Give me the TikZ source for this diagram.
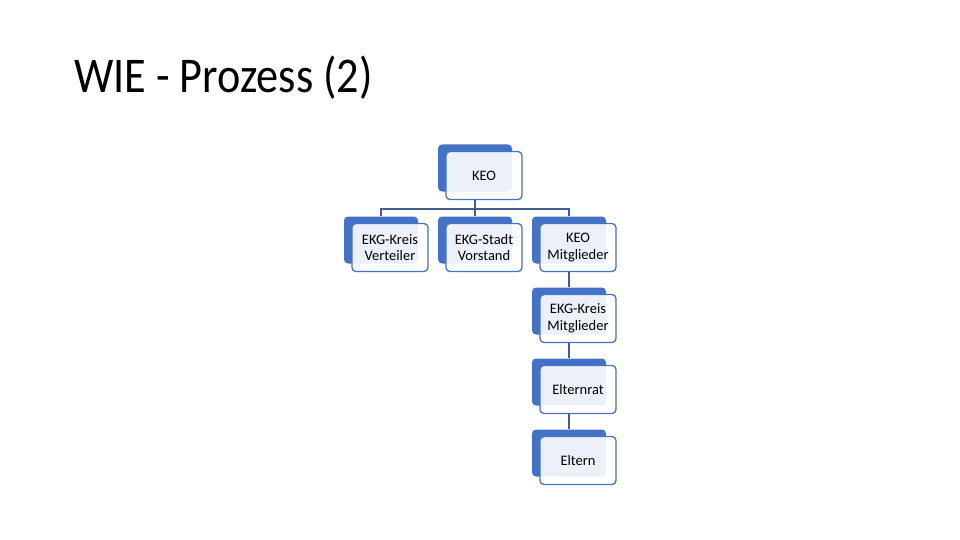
\documentclass[tikz,border=0pt]{standalone}
\usepackage{fontspec}
\setmainfont{Carlito}
\usetikzlibrary{backgrounds}
\definecolor{bblue}{HTML}{4472C4}
\definecolor{lineblue}{HTML}{3E5E8E}
\tikzset{
  backbox/.style={fill=bblue, draw=none, rounded corners=4pt, minimum width=74pt, minimum height=47pt, inner sep=0pt},
  frontbox/.style={draw=bblue, line width=1.3pt, fill=white, fill opacity=0.9, text opacity=1, rounded corners=4pt,
    minimum width=76pt, minimum height=48pt, inner sep=0pt, align=center, font=\fontsize{14.5}{16.5}\selectfont},
  conn/.style={draw=lineblue, line width=1.4pt},
  titletext/.style={anchor=base west, inner sep=0pt, font=\fontsize{50}{60}\selectfont}
}
\newcommand\orgbox[4]{%
  \node[backbox] (#1b) at (#2,#3) {};
  \node[frontbox] (#1) at (#2+9,#3+7.5) {#4};}
\begin{document}
\begin{tikzpicture}[x=1pt,y=-1pt]
\useasboundingbox (0,0) rectangle (960,540);
\node[titletext] (title) at (74,93) {\scalebox{0.885}[1]{WIE - Prozess (2)}};
\orgbox{keo}{475}{168}{KEO}
\orgbox{ver}{381}{240}{EKG-Kreis\\Verteiler}
\orgbox{vor}{475}{240}{EKG-Stadt\\Vorstand}
\orgbox{mis}{569}{240}{KEO\\Mitglieder}
\orgbox{ekm}{569}{311}{EKG-Kreis\\Mitglieder}
\orgbox{erat}{569}{382}{Elternrat}
\orgbox{elt}{569}{453}{Eltern}
\coordinate (bar) at (0,209);
\begin{scope}[on background layer]
  \draw[conn] (keob |- keo.south) -- (keob |- bar);
  \draw[conn] (verb.north) |- (misb |- bar) -- (misb.north);
  \draw[conn] (vorb.north) -- (vorb |- bar);
  \draw[conn] (misb |- mis.south) -- (ekmb.north);
  \draw[conn] (ekmb |- ekm.south) -- (eratb.north);
  \draw[conn] (eratb |- erat.south) -- (eltb.north);
\end{scope}
\end{tikzpicture}
\end{document}
